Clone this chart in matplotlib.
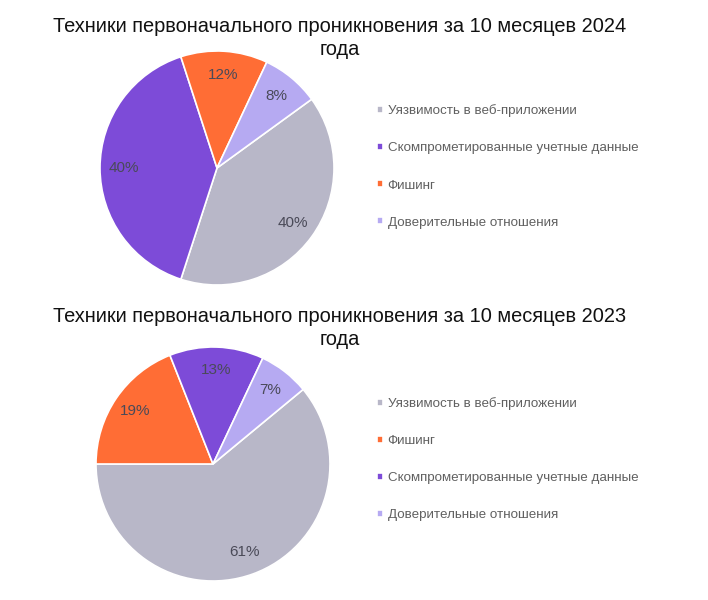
import matplotlib.pyplot as plt

plt.rcParams["font.family"] = ["Liberation Sans", "DejaVu Sans"]

# ---- data ----
labels_2024 = [
    "Уязвимость в веб-приложении",
    "Скомпрометированные учетные данные",
    "Фишинг",
    "Доверительные отношения",
]
values_2024 = [40, 40, 12, 8]

labels_2023 = [
    "Уязвимость в веб-приложении",
    "Фишинг",
    "Скомпрометированные учетные данные",
    "Доверительные отношения",
]
values_2023 = [61, 19, 13, 7]

title_2024 = "Техники первоначального проникновения за 10 месяцев 2024\nгода"
title_2023 = "Техники первоначального проникновения за 10 месяцев 2023\nгода"

# ---- style ----
COLORS = {
    "Уязвимость в веб-приложении": "#b8b7c8",
    "Скомпрометированные учетные данные": "#7d4bd8",
    "Фишинг": "#ff6d35",
    "Доверительные отношения": "#b6aaf2",
}
W, H = 708, 600


def px_axes(fig, cx, cy, r):
    """Square axes around a pie centre given in pixels."""
    return fig.add_axes([(cx - r) / W, 1 - (cy + r) / H, 2 * r / W, 2 * r / H])


def draw_pie(fig, labels, values, title, cx, cy, r, start, title_y, legend_y):
    ax = px_axes(fig, cx, cy, r)
    wedges, _, autotexts = ax.pie(
        values,
        colors=[COLORS[l] for l in labels],
        startangle=start,
        counterclock=False,
        autopct="%1.0f%%",
        pctdistance=0.8,
        wedgeprops=dict(edgecolor="white", linewidth=1.2),
        textprops=dict(color="#4a4a58", fontsize=11),
    )
    ax.set_xlim(-1, 1)
    ax.set_ylim(-1, 1)
    ax.set_aspect("equal")

    fig.text(340 / W, 1 - title_y / H, title, ha="center", va="top",
             fontsize=14.4, color="#111111", linespacing=1.25)

    fig.legend(
        wedges, labels,
        loc="center left",
        bbox_to_anchor=(377 / W, 1 - legend_y / H),
        frameon=False,
        fontsize=9.6,
        labelcolor="#606060",
        handlelength=0.45,
        handleheight=0.45,
        handletextpad=0.35,
        labelspacing=1.88,
        borderpad=0,
        borderaxespad=0,
    )


fig = plt.figure(figsize=(W / 100, H / 100), dpi=100)

draw_pie(fig, labels_2024, values_2024, title_2024,
         217, 168, 117, 36, 17, 166.5)
draw_pie(fig, labels_2023, values_2023, title_2023,
         213, 464, 117, 39.6, 307, 459)

fig.savefig("out.png", dpi=100)
